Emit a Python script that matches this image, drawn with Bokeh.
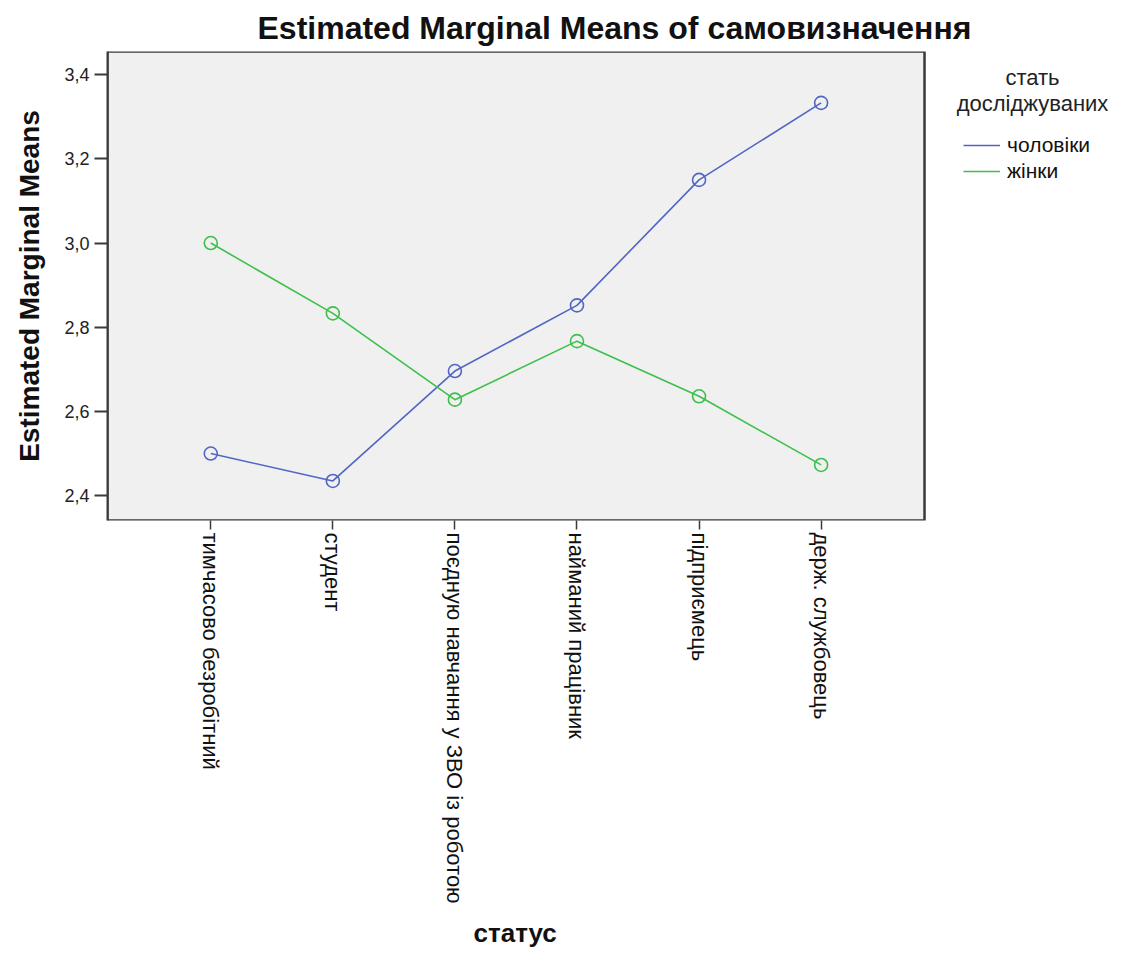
import math
from bokeh.plotting import figure
from bokeh.models import (FixedTicker, Legend, LegendItem, Label, Range1d, Title,
                          CustomJSTickFormatter, BoxAnnotation)
from bokeh.embed import file_html
from bokeh.resources import INLINE

# ---- data ----
categories = ["тимчасово безробітний", "студент", "поєдную навчання у ЗВО із роботою",
              "найманий працівник", "підприємець", "держ. службовець"]
men = [2.500, 2.435, 2.696, 2.852, 3.150, 3.333]
women = [3.000, 2.833, 2.628, 2.767, 2.636, 2.473]
series_names = ["чоловіки", "жінки"]
y_ticks = [2.4, 2.6, 2.8, 3.0, 3.2, 3.4]
legend_title = ["стать", "досліджуваних"]
title_text = "Estimated Marginal Means of самовизначення"
x_label = "статус"
y_label = "Estimated Marginal Means"

BLUE = "#5166c4"
GREEN = "#3dbf4b"
FONT = "Liberation Sans"
EDGE = "#3a3a3a"

# axis extents (plot area spans X_MIN..X_AREA_MAX, legend lives to the right)
X_MIN, X_AREA_MAX, X_MAX = -0.846, 5.847, 7.518
Y_MIN, Y_MAX = 2.341, 3.455

xs = list(range(len(categories)))

p = figure(width=1128, height=960,
           x_range=Range1d(X_MIN, X_MAX), y_range=Range1d(Y_MIN, Y_MAX),
           output_backend="svg", toolbar_location=None,
           min_border_left=107, min_border_top=51, min_border_right=0,
           min_border_bottom=440)

p.background_fill_color = "white"
p.border_fill_color = "white"
p.outline_line_color = None
p.xgrid.visible = False
p.ygrid.visible = False

# grey plot area with its border
p.add_layout(BoxAnnotation(left=X_MIN, right=X_AREA_MAX, bottom=Y_MIN, top=Y_MAX,
                           fill_color="#f0f0f0", fill_alpha=1.0,
                           line_color=EDGE, line_alpha=1.0, line_width=2.5,
                           level="underlay"))

# title
p.title.text = title_text
p.title.text_font = FONT
p.title.text_font_style = "bold"
p.title.text_font_size = "32px"
p.title.text_color = "#111111"
p.title.align = "left"
p.title.offset = 150
p.title.standoff = 12

# lines & markers
lm = p.line(xs, men, line_color=BLUE, line_width=1.6)
p.scatter(xs, men, marker="circle", size=13, fill_color=None,
          line_color=BLUE, line_width=1.6)
lw = p.line(xs, women, line_color=GREEN, line_width=1.6)
p.scatter(xs, women, marker="circle", size=13, fill_color=None,
          line_color=GREEN, line_width=1.6)

# x axis
xa = p.xaxis[0]
xa.ticker = FixedTicker(ticks=xs)
xa.major_label_overrides = {i: c for i, c in zip(xs, categories)}
xa.major_label_orientation = -math.pi / 2
xa.major_label_text_font = FONT
xa.major_label_text_font_size = "22px"
xa.major_label_text_color = "#111111"
xa.major_tick_out = 9
xa.major_tick_in = 0
xa.minor_tick_out = 0
xa.minor_tick_in = 0
xa.major_label_standoff = 3
xa.axis_line_color = None
xa.major_tick_line_color = EDGE
xa.major_tick_line_width = 1.5

# x axis title (centred under the grey plot area)
p.add_layout(Title(text=x_label, align="left", offset=366, standoff=18,
                   vertical_align="bottom",
                   text_font=FONT, text_font_style="bold", text_font_size="26px",
                   text_color="#111111"), "below")

# y axis
ya = p.yaxis[0]
ya.ticker = FixedTicker(ticks=y_ticks)
ya.formatter = CustomJSTickFormatter(code="return tick.toFixed(1).replace('.', ',');")
ya.major_label_text_font = FONT
ya.major_label_text_font_size = "18px"
ya.major_label_text_color = "#222222"
ya.major_tick_out = 13
ya.major_tick_in = 0
ya.minor_tick_out = 0
ya.minor_tick_in = 0
ya.major_label_standoff = 5
ya.axis_line_color = EDGE
ya.axis_line_width = 2
ya.major_tick_line_color = EDGE
ya.major_tick_line_width = 2
ya.axis_label = y_label
ya.axis_label_text_font = FONT
ya.axis_label_text_font_style = "bold"
ya.axis_label_text_font_size = "28px"
ya.axis_label_text_color = "#111111"
ya.axis_label_standoff = 16

# legend
legend = Legend(items=[LegendItem(label=series_names[0], renderers=[lm]),
                       LegendItem(label=series_names[1], renderers=[lw])],
                location=(856, 337))
legend.border_line_color = None
legend.background_fill_alpha = 0
legend.padding = 0
legend.margin = 0
legend.spacing = 2
legend.glyph_width = 37
legend.glyph_height = 20
legend.label_height = 20
legend.label_standoff = 7
legend.label_text_font = FONT
legend.label_text_font_size = "21px"
legend.label_text_color = "#111111"
p.add_layout(legend)

for txt, yy in zip(legend_title, [443, 417]):
    p.add_layout(Label(x=925, y=yy, x_units="screen", y_units="screen", text=txt,
                       text_align="center", text_baseline="middle",
                       text_font=FONT, text_font_size="22px", text_color="#222222"))

open("out.html", "w").write(file_html(p, INLINE))
